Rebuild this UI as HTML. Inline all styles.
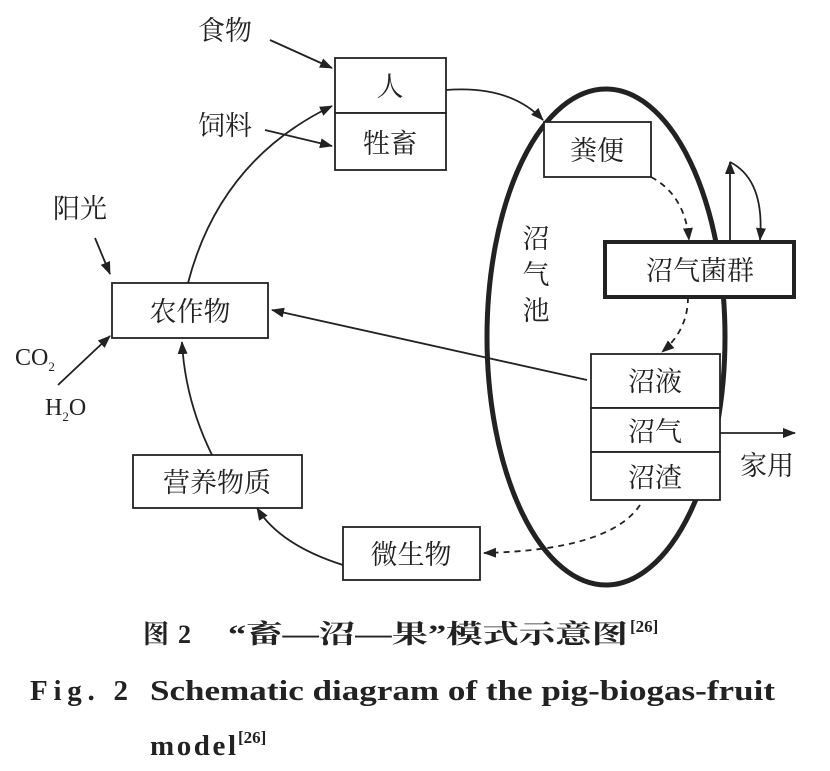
<!DOCTYPE html>
<html><head><meta charset="utf-8"><style>
body{margin:0;background:#fff;}
svg text{font-family:"Liberation Serif","Noto Serif CJK SC",serif;fill:#222;}
</style></head><body>
<svg width="830" height="766" viewBox="0 0 830 766" xmlns="http://www.w3.org/2000/svg">
<defs>
<marker id="a" markerWidth="13" markerHeight="10" refX="12" refY="5" orient="auto" markerUnits="userSpaceOnUse">
<path d="M0,0 L13,5 L0,10 z" fill="#222"/></marker>
</defs>
<g stroke="#222" fill="none" stroke-width="1.8">
<ellipse cx="606" cy="337" rx="119" ry="248" stroke-width="5"/>
<rect x="335" y="58" width="111" height="55" fill="#fff"/>
<rect x="335" y="113" width="111" height="57" fill="#fff"/>
<rect x="544" y="122" width="107" height="55" fill="#fff"/>
<rect x="605" y="242" width="189" height="55" fill="#fff" stroke-width="4"/>
<rect x="591" y="354" width="129" height="54" fill="#fff"/>
<rect x="591" y="408" width="129" height="44" fill="#fff"/>
<rect x="591" y="452" width="129" height="48" fill="#fff"/>
<rect x="112" y="283" width="156" height="55" fill="#fff"/>
<rect x="133" y="455" width="169" height="53" fill="#fff"/>
<rect x="343" y="527" width="137" height="53" fill="#fff"/>
<path d="M270,40 L332,68" marker-end="url(#a)"/>
<path d="M265,130 L332,146" marker-end="url(#a)"/>
<path d="M95,238 L110,274" marker-end="url(#a)"/>
<path d="M58,385 L110,336" marker-end="url(#a)"/>
<path d="M212,455 Q185,400 182,342" marker-end="url(#a)"/>
<path d="M188,283 Q220,160 332,106" marker-end="url(#a)"/>
<path d="M446,90 Q510,85 543,120" marker-end="url(#a)"/>
<path d="M651,177 Q685,195 689,240" stroke-dasharray="6,5" marker-end="url(#a)"/>
<path d="M688,297 Q688,330 662,352" stroke-dasharray="6,5" marker-end="url(#a)"/>
<path d="M587,380 L272,310" marker-end="url(#a)"/>
<path d="M720,433 L795,433" marker-end="url(#a)"/>
<path d="M640,505 Q610,550 484,553" stroke-dasharray="6,5" marker-end="url(#a)"/>
<path d="M343,565 Q280,545 257,508" marker-end="url(#a)"/>
<path d="M730,242 L730,162" marker-end="url(#a)"/>
<path d="M730,162 Q765,180 760,240" marker-end="url(#a)"/>
</g>
<g font-size="27" text-anchor="middle">
<text x="390" y="96">人</text>
<text x="390" y="153">牲畜</text>
<text x="597" y="160">粪便</text>
<text x="700" y="280">沼气菌群</text>
<text x="655" y="391">沼液</text>
<text x="655" y="441">沼气</text>
<text x="655" y="487">沼渣</text>
<text x="190" y="321">农作物</text>
<text x="217" y="492">营养物质</text>
<text x="411" y="564">微生物</text>
<text x="536" y="248">沼</text>
<text x="536" y="284">气</text>
<text x="536" y="320">池</text>
<text x="225" y="40">食物</text>
<text x="225" y="135">饲料</text>
<text x="80" y="218">阳光</text>
<text x="767" y="475">家用</text>
</g>
<text x="15" y="365" font-size="24">CO<tspan font-size="13" dy="6">2</tspan></text>
<text x="45" y="415" font-size="24">H<tspan font-size="13" dy="6">2</tspan><tspan dy="-6">O</tspan></text>
<text x="143" y="643" font-size="26" font-weight="bold" textLength="48">图 2</text>
<text x="228" y="643" font-size="26" font-weight="bold" textLength="400" lengthAdjust="spacingAndGlyphs">“畜—沼—果”模式示意图</text>
<text x="630" y="632" font-size="17" font-weight="bold">[26]</text>
<text x="30" y="700" font-size="29" font-weight="bold" textLength="98">Fig. 2</text>
<text x="150" y="700" font-size="29" font-weight="bold" textLength="625" lengthAdjust="spacingAndGlyphs">Schematic diagram of the pig-biogas-fruit</text>
<text x="150" y="755" font-size="29" font-weight="bold" textLength="86">model</text>
<text x="238" y="743" font-size="17" font-weight="bold">[26]</text>
</svg>
</body></html>
